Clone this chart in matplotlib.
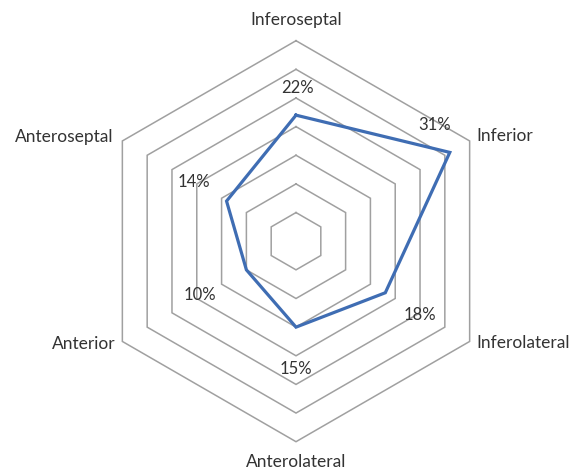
import matplotlib
matplotlib.use('Agg')
import matplotlib.pyplot as plt
import numpy as np

categories = ['Inferoseptal', 'Inferior', 'Inferolateral',
              'Anterolateral', 'Anterior', 'Anteroseptal']
values = [22, 31, 18, 15, 10, 14]
ring_levels = [5, 10, 15, 20, 25, 30, 35]

# label placement (pixel offsets from the vertex), Excel-like
value_offsets = [(1, 27), (-15, 27), (35, -22), (0, -42), (-46, -25), (-33, 19)]
cat_offsets = [(0, 21), (7, 5), (7, -2), (0, -20), (-7, -3), (-9, 4)]
cat_align = ['center', 'left', 'left', 'center', 'right', 'right']

plt.rcParams['font.family'] = ['Lato', 'DejaVu Sans']

W, H, dpi = 576, 469, 100
fig = plt.figure(figsize=(W / dpi, H / dpi), dpi=dpi)
ax = fig.add_axes([0, 0, 1, 1])

cx, cy, R = 296.0, 241.2, 200.5   # pixel centre (from top) and outer radius
scale = R / ring_levels[-1]
ax.set_xlim(-cx / scale, (W - cx) / scale)
ax.set_ylim(-(H - cy) / scale, cy / scale)
ax.set_aspect('equal')
ax.axis('off')

n = len(categories)
angles = np.arange(n) * 2 * np.pi / n   # clockwise from top


def to_xy(r):
    r = np.asarray(r, dtype=float)
    return r * np.sin(angles), r * np.cos(angles)


grid_color = '#a0a0a0'
for lev in ring_levels:
    gx, gy = to_xy([lev] * n)
    ax.plot(np.append(gx, gx[0]), np.append(gy, gy[0]), color=grid_color,
            lw=1.1, solid_joinstyle='miter', zorder=1)

vx, vy = to_xy(values)
ax.plot(np.append(vx, vx[0]), np.append(vy, vy[0]), color='#3f6db3',
        lw=2.3, solid_joinstyle='miter', zorder=3)

text_color = '#333333'
for x, y, v, off in zip(vx, vy, values, value_offsets):
    ax.annotate(f'{v}%', (x, y), xytext=off, textcoords='offset pixels',
                ha='center', va='center', fontsize=12, color=text_color)

ox, oy = to_xy([ring_levels[-1]] * n)
for x, y, c, off, ha in zip(ox, oy, categories, cat_offsets, cat_align):
    ax.annotate(c, (x, y), xytext=off, textcoords='offset pixels',
                ha=ha, va='center', fontsize=12.5, color=text_color)

fig.savefig('out.png', dpi=dpi)
